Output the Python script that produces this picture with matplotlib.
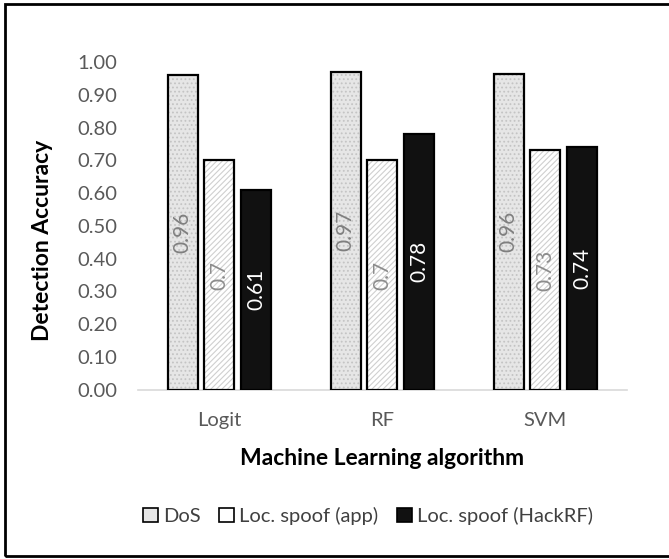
import matplotlib.pyplot as plt
import numpy as np
from matplotlib.patches import Patch, Rectangle

algorithms = ["Logit", "RF", "SVM"]
series_names = ["DoS", "Loc. spoof (app)", "Loc. spoof (HackRF)"]
dos = [0.96, 0.97, 0.965]
spoof_app = [0.70, 0.70, 0.73]
spoof_hackrf = [0.61, 0.78, 0.74]
dos_labels = ["0.96", "0.97", "0.96"]
app_labels = ["0.7", "0.7", "0.73"]
hackrf_labels = ["0.61", "0.78", "0.74"]

plt.rcParams["font.family"] = ["Lato", "DejaVu Sans"]
plt.rcParams["hatch.linewidth"] = 0.8

fig = plt.figure(figsize=(6.69, 5.59), dpi=100)
ax = fig.add_axes([0.206, 0.303, 0.731, 0.586])

x = np.arange(len(algorithms))
width = 0.185
step = 0.225

styles = [
    dict(face="#e6e6e6", hatch="....", hcol="#c4c4c4", text="#7f7f7f"),
    dict(face="white", hatch="//////", hcol="#cfcfcf", text="#8c8c8c"),
    dict(face="#111111", hatch=None, hcol="#111111", text="white"),
]
values = [dos, spoof_app, spoof_hackrf]
labels = [dos_labels, app_labels, hackrf_labels]

for i, (vals, labs, st) in enumerate(zip(values, labels, styles)):
    pos = x + (i - 1) * step
    # hatch layer first, then a black outline on top
    ax.bar(pos, vals, width, color=st["face"], hatch=st["hatch"],
           edgecolor=st["hcol"], linewidth=0, zorder=2)
    ax.bar(pos, vals, width, facecolor="none", edgecolor="black",
           linewidth=1.6, zorder=3)
    for p, v, t in zip(pos, vals, labs):
        ax.text(p, v / 2, t, rotation=90, ha="center", va="center",
                fontsize=15, color=st["text"], zorder=4)

ax.set_xlim(-0.5, 2.5)
ax.set_ylim(0, 1.0)
ax.set_yticks(np.arange(0, 1.01, 0.1))
ax.set_yticklabels([f"{v:.2f}" for v in np.arange(0, 1.01, 0.1)])
ax.set_xticks(x)
ax.set_xticklabels(algorithms)
ax.tick_params(axis="both", length=0, labelsize=14.5, colors="#595959")
ax.tick_params(axis="x", pad=16)
ax.tick_params(axis="y", pad=15)
for side in ["top", "right", "left"]:
    ax.spines[side].set_visible(False)
ax.spines["bottom"].set_color("#d9d9d9")
ax.spines["bottom"].set_linewidth(1.2)

ax.set_ylabel("Detection Accuracy", fontsize=16.5, fontweight="bold")
ax.yaxis.set_label_coords(-0.174, 0.456)
ax.set_xlabel("Machine Learning algorithm", fontsize=16.5, fontweight="bold", labelpad=14)

handles = [
    Patch(facecolor=st["face"], edgecolor="black", linewidth=1.2, label=n)
    for n, st in zip(series_names, styles)
]
fig.legend(handles=handles, loc="center", bbox_to_anchor=(0.55, 0.077),
           ncol=3, frameon=False, fontsize=14.5, handlelength=0.75,
           handleheight=0.75, handletextpad=0.25, columnspacing=0.9,
           labelcolor="#404040")

fig.patches.append(Rectangle((5 / 669, 3 / 559), 1.2, 1 - 7 / 559,
                             transform=fig.transFigure, fill=False,
                             edgecolor="black", linewidth=2.0))

fig.savefig("out.png", dpi=100)
